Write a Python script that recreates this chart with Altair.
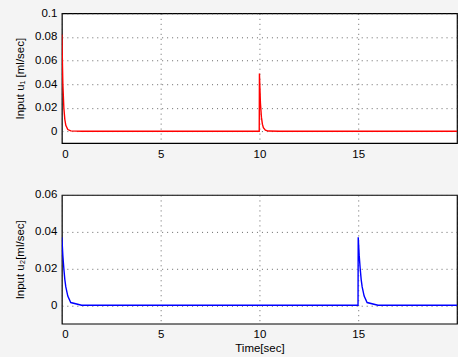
import altair as alt
import pandas as pd

# time (s) and input u1 (ml/sec)
t1 = [0, 0.05, 0.1, 0.15, 0.2, 0.3, 0.45, 1.0, 9.99, 10.0, 10.05, 10.1, 10.15, 10.2, 10.3, 10.45, 11.0, 20.0]
u1 = [0.082, 0.040, 0.020, 0.010, 0.005, 0.0015, 0.0003, 0, 0, 0.049, 0.024, 0.012, 0.006, 0.003, 0.001, 0.0002, 0, 0]

# time (s) and input u2 (ml/sec)
t2 = [0, 0.05, 0.1, 0.15, 0.2, 0.3, 0.45, 1.0, 14.99, 15.0, 15.05, 15.1, 15.15, 15.2, 15.3, 15.45, 16.0, 20.0]
u2 = [0.037, 0.027, 0.020, 0.014, 0.010, 0.005, 0.0015, 0, 0, 0.037, 0.027, 0.020, 0.014, 0.010, 0.005, 0.0015, 0, 0]

x_ticks = [0, 5, 10, 15, 20]
y1_ticks = [0, 0.02, 0.04, 0.06, 0.08, 0.1]
y2_ticks = [0, 0.02, 0.04, 0.06]

FONT = "Liberation Sans"


def panel(t, u, color, ydom, yticks, ytitle, xtitle=None):
    df = pd.DataFrame({"t": t, "u": u})
    xaxis = dict(values=x_ticks, grid=True, gridDash=[1, 4], gridColor="#333333",
                 gridOpacity=0.75, ticks=False, domain=False, labelPadding=5,
                 labelExpr="datum.value == 20 ? '' : datum.label")
    if xtitle:
        xaxis.update(title=xtitle, titlePadding=2)
    else:
        xaxis.update(title="")
    yaxis = dict(values=yticks, grid=True, gridDash=[1, 4], gridColor="#333333",
                 gridOpacity=0.75, ticks=False, domain=False, labelPadding=5,
                 title=ytitle, titlePadding=9, format="g")
    return alt.Chart(df).mark_line(color=color, strokeWidth=1.4, clip=True).encode(
        x=alt.X("t:Q", scale=alt.Scale(domain=[0, 20], nice=False, zero=False), axis=alt.Axis(**xaxis)),
        y=alt.Y("u:Q", scale=alt.Scale(domain=ydom, nice=False, zero=False), axis=alt.Axis(**yaxis)),
    ).properties(width=396, height=130)


top = panel(t1, u1, "#ff0000", [-0.01, 0.1], y1_ticks, "Input u\u2081 [ml/sec]")
bottom = panel(t2, u2, "#0000ff", [-0.01, 0.06], y2_ticks, "Input u\u2082[ml/sec]", "Time[sec]").properties(height=129)

chart = alt.vconcat(top, bottom, spacing=52, bounds="flush").properties(
    padding={"left": 14, "top": 6, "right": 0, "bottom": 2},
    background="#f4f4f4",
).configure_view(
    stroke="black", strokeWidth=1.2, fill="white"
).configure_axis(
    labelFont=FONT, titleFont=FONT, labelFontSize=11.5, titleFontSize=11.5,
    labelColor="black", titleColor="black", titleFontWeight="normal",
)

chart.save("out.html", embed_options={"renderer": "svg", "actions": False})
